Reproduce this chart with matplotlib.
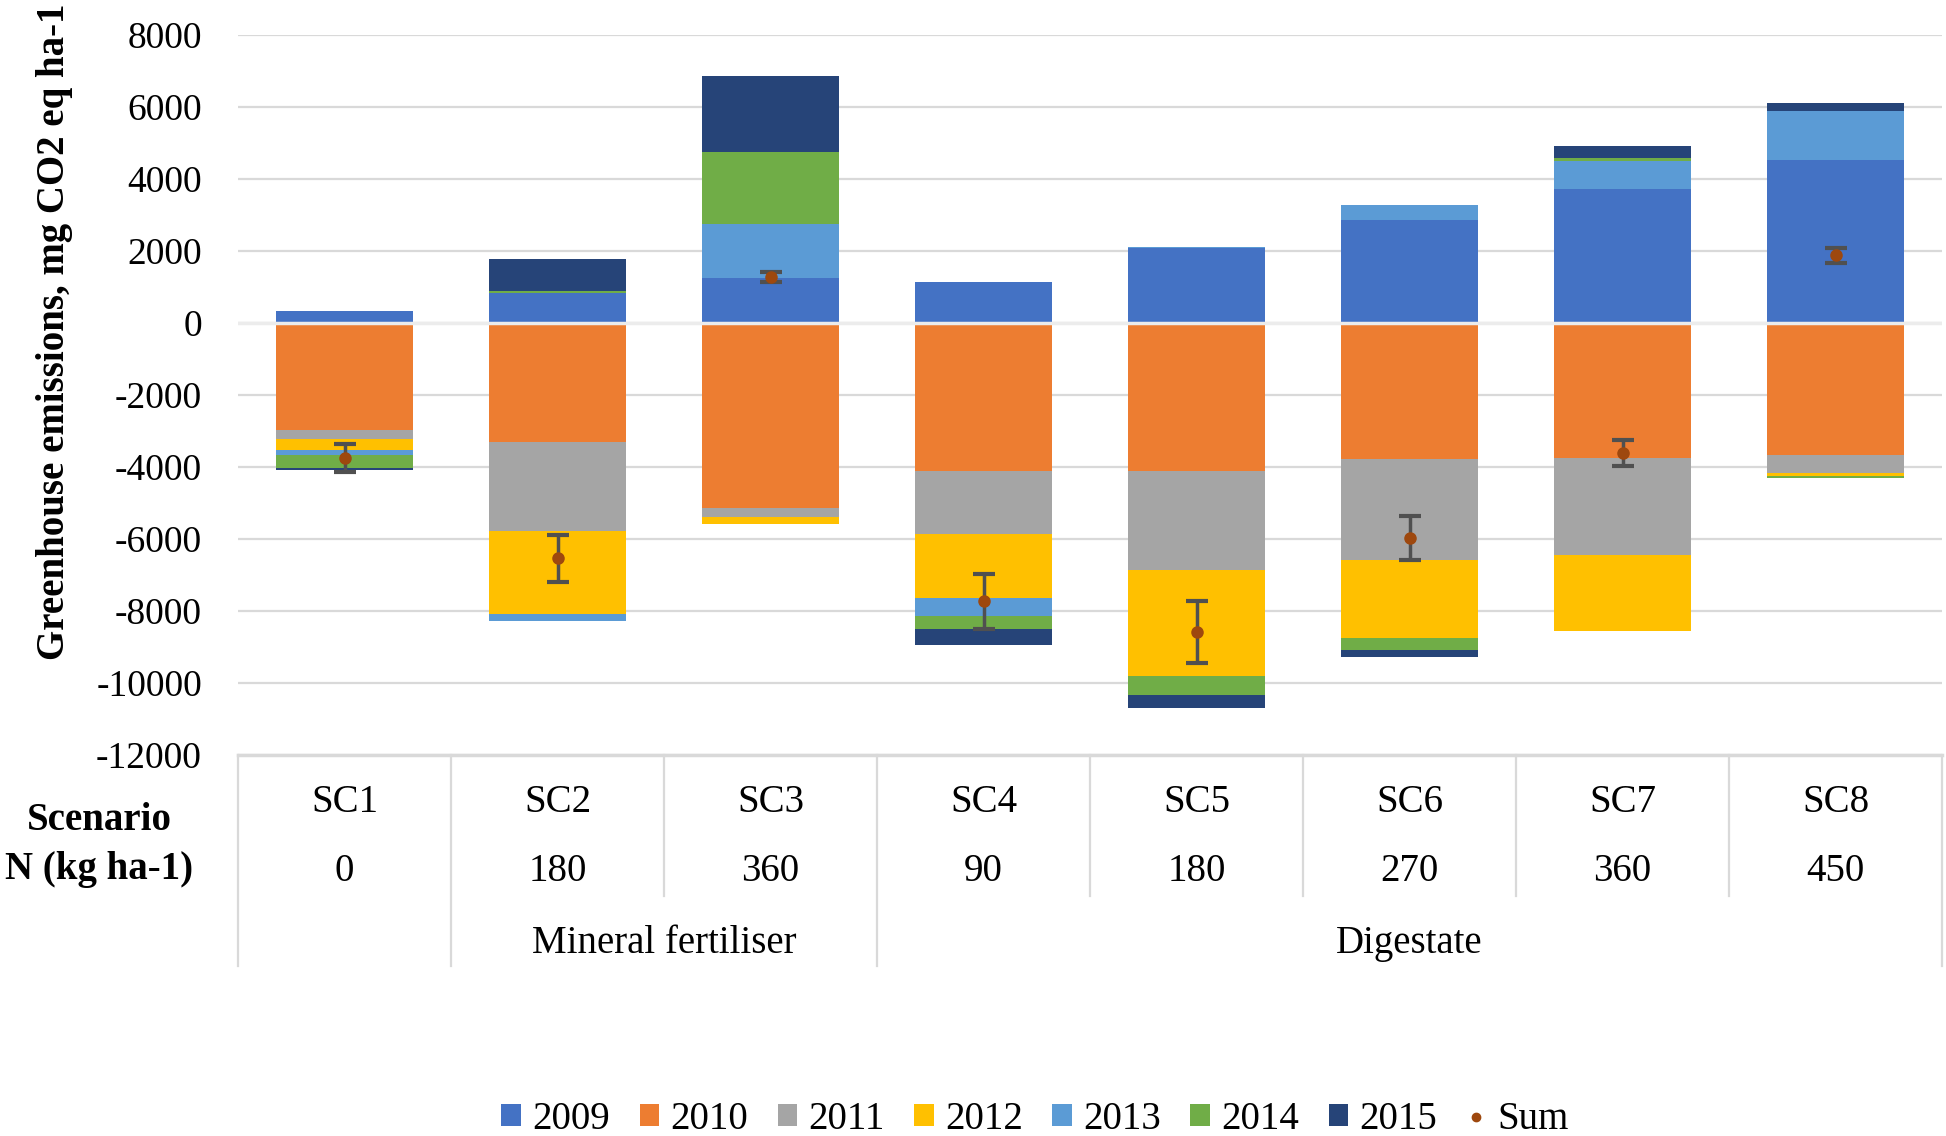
import numpy as np
import matplotlib
matplotlib.use("Agg")
import matplotlib.pyplot as plt
from matplotlib.patches import Patch
from matplotlib.lines import Line2D
from matplotlib.transforms import blended_transform_factory

# Scenario labels and rows of the category table
SCENARIOS = ["SC1", "SC2", "SC3", "SC4", "SC5", "SC6", "SC7", "SC8"]
N_RATES = ["0", "180", "360", "90", "180", "270", "360", "450"]

# Yearly contributions per scenario (mg CO2 eq ha-1)
YEARS = ["2009", "2010", "2011", "2012", "2013", "2014", "2015"]
Y2009 = [330, 833, 1250, 1140, 2080, 2845, 3705, 4520]
Y2010 = [-2980, -3320, -5160, -4120, -4120, -3780, -3750, -3685]
Y2011 = [-250, -2465, -230, -1740, -2760, -2815, -2695, -480]
Y2012 = [-295, -2315, -205, -1795, -2945, -2165, -2120, -92]
Y2013 = [-140, -185, 1500, -490, 30, 415, 785, 1360]
Y2014 = [-360, 45, 1990, -370, -530, -335, 75, -55]
Y2015 = [-75, 880, 2120, -435, -345, -200, 340, 230]

# Sum of all years with its error
SUM = [-3755, -6540, 1280, -7745, -8595, -5985, -3615, 1870]
SUM_ERR = [385, 650, 140, 770, 850, 605, 365, 205]

COLORS = ["#4472C4", "#ED7D31", "#A5A5A5", "#FFC000", "#5B9BD5", "#70AD47", "#264478"]
SUM_COLOR = "#9E480E"
GRID = "#d9d9d9"


def main():
    plt.rcParams["font.family"] = ["Liberation Serif", "DejaVu Serif"]
    plt.rcParams["axes.unicode_minus"] = False  # plain hyphen like the original

    fig = plt.figure(figsize=(19.46, 11.36), dpi=100)
    ax = fig.add_axes([0.1223, 0.3357, 0.998 - 0.1223, 0.9694 - 0.3357])

    x = np.arange(len(SCENARIOS))
    series = [Y2009, Y2010, Y2011, Y2012, Y2013, Y2014, Y2015]

    # Excel style stacking: positives go up, negatives go down
    pos_bottom = np.zeros(len(x))
    neg_bottom = np.zeros(len(x))
    for vals, color in zip(series, COLORS):
        vals = np.array(vals, dtype=float)
        bottom = np.where(vals >= 0, pos_bottom, neg_bottom)
        ax.bar(x, vals, width=0.64, bottom=bottom, color=color, linewidth=0, zorder=2)
        pos_bottom = pos_bottom + np.where(vals >= 0, vals, 0)
        neg_bottom = neg_bottom + np.where(vals < 0, vals, 0)

    # light line across zero, like the white gap in the original
    ax.axhline(0, color="#ececec", lw=2.5, zorder=3)

    ax.errorbar(x, SUM, yerr=SUM_ERR, fmt="o", color=SUM_COLOR, ecolor="#505050",
                elinewidth=2.5, capsize=8, capthick=3, markersize=8, zorder=5)

    ax.set_xlim(-0.5, len(x) - 0.5)
    ax.set_ylim(-12000, 8000)
    ax.set_yticks(np.arange(-12000, 8001, 2000))
    ax.tick_params(axis="y", length=0, pad=26, labelsize=27)
    ax.set_xticks([])
    ax.yaxis.grid(True, color=GRID, lw=1.6, zorder=0)
    ax.set_axisbelow(True)
    for side in ["left", "right", "top"]:
        ax.spines[side].set_visible(False)
    ax.spines["bottom"].set_color(GRID)
    ax.spines["bottom"].set_linewidth(2.5)

    fig.text(0.028, 1 - 332 / 1136, "Greenhouse emissions, mg CO2 eq ha-1",
             rotation=90, ha="center", va="center", fontsize=28, fontweight="bold")

    # category table under the axis
    trans = blended_transform_factory(ax.transData, ax.transAxes)
    for i in range(len(x)):
        ax.text(x[i], -0.066, SCENARIOS[i], transform=trans, ha="center", va="center",
                fontsize=28, clip_on=False)
        ax.text(x[i], -0.162, N_RATES[i], transform=trans, ha="center", va="center",
                fontsize=28, clip_on=False)
    ax.text(1.5, -0.262, "Mineral fertiliser", transform=trans, ha="center", va="center",
            fontsize=28, clip_on=False)
    ax.text(5.0, -0.262, "Digestate", transform=trans, ha="center", va="center",
            fontsize=28, clip_on=False)

    long_lines = [0, 1, 3, 8]
    for k in range(len(x) + 1):
        low = -0.294 if k in long_lines else -0.196
        ax.plot([k - 0.5, k - 0.5], [0, low], transform=trans, color=GRID, lw=1.6,
                clip_on=False)

    fig.text(99 / 1946, 1 - 820 / 1136, "Scenario", ha="center", va="center",
             fontsize=28, fontweight="bold")
    fig.text(99 / 1946, 1 - 870 / 1136, "N (kg ha-1)", ha="center", va="center",
             fontsize=28, fontweight="bold")

    handles = [Patch(facecolor=c, edgecolor="none") for c in COLORS]
    handles.append(Line2D([], [], marker="o", color=SUM_COLOR, linestyle="none", markersize=6))
    labels = YEARS + ["Sum"]
    fig.legend(handles, labels, loc="center", bbox_to_anchor=(0.532, 0.0145), ncol=8,
               frameon=False, fontsize=28, handlelength=0.5, handleheight=0.5,
               handletextpad=0.3, columnspacing=0.75)

    fig.savefig("out.png", dpi=100)


if __name__ == "__main__":
    main()
